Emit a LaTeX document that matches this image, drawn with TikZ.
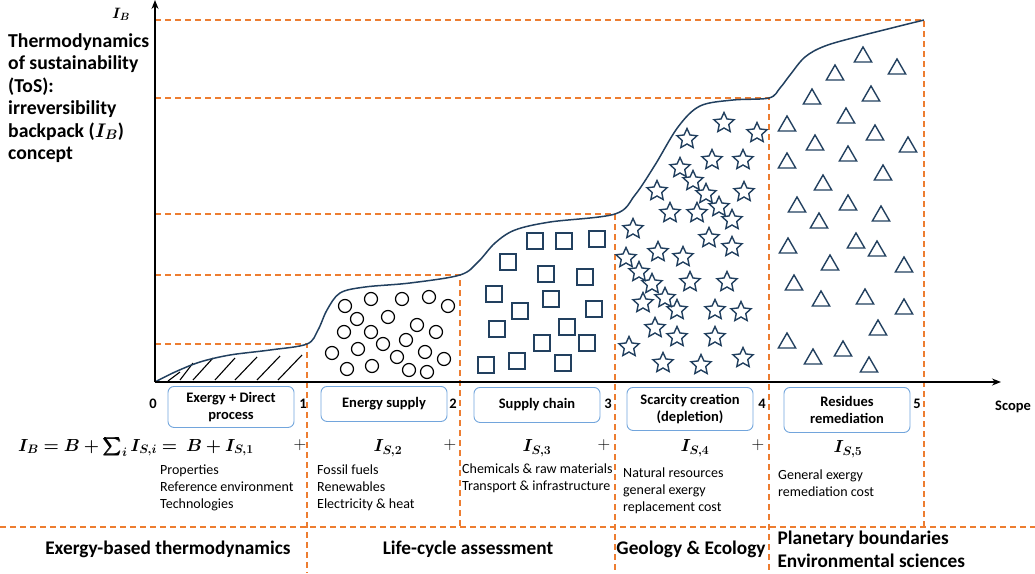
\RequirePackage{fix-cm}
\documentclass[tikz,border=0pt]{standalone}
\usepackage{amsmath}
\usepackage{bm}
\usepackage[no-math]{fontspec}
\setmainfont{Carlito}
\usetikzlibrary{
    arrows.meta,
    shapes.geometric
}

\definecolor{tosorange}{HTML}{ED7D31}
\definecolor{tosnavy}{HTML}{22405F}
\definecolor{tosblue}{HTML}{72A5DC}

\tikzset{
    guide/.style={draw=tosorange, line width=1.3pt, dash pattern=on 6pt off 4pt},
    axis/.style={line width=1.4pt, -{Stealth[length=9pt,width=7pt]}},
    stagebox/.style={draw=tosblue, line width=0.9pt, rounded corners=6pt,
        minimum width=126pt, inner sep=2pt, align=center,
        font=\fontsize{14.5}{17}\selectfont\bfseries},
    tick/.style={font=\fontsize{14.5}{16}\selectfont\bfseries},
    notes/.style={anchor=north west, align=left, inner sep=0pt,
        font=\fontsize{14}{17}\selectfont},
    field/.style={font=\fontsize{19.3}{23}\selectfont\bfseries},
    term/.style={font=\fontsize{17.5}{22}\selectfont},
    ball/.style={circle, draw=black, line width=1.2pt, minimum size=13pt, inner sep=0pt},
    block/.style={rectangle, draw=tosnavy, line width=1.6pt, minimum size=16pt, inner sep=0pt},
    starry/.style={star, star points=5, star point ratio=2.1, draw=tosnavy,
        line width=1.4pt, minimum size=21pt, inner sep=0pt},
    tri/.style={regular polygon, regular polygon sides=3, draw=tosnavy,
        line width=1.4pt, minimum size=20pt, inner sep=0pt}
}

\begin{document}
\begin{tikzpicture}[x=1pt, y=-1pt]

\useasboundingbox (0,0) rectangle (1035,573);

% Key coordinates
\coordinate (O) at (155,382);    % origin
\coordinate (L1) at (307,344);   % end of scope 1
\coordinate (L2) at (460,275);   % end of scope 2
\coordinate (L3) at (615,214);   % end of scope 3
\coordinate (L4) at (769,98);    % end of scope 4
\coordinate (L5) at (924,20);    % end of scope 5
\coordinate (mid) at (0,527);    % split above the field names
\coordinate (bot) at (0,573);

% Dashed guides
\draw[guide] (O |- L1) -- (L1) -- (L1 |- bot);
\draw[guide] (O |- L2) -- (L2) -- (L2 |- mid);
\draw[guide] (O |- L3) -- (L3) -- (L3 |- bot);
\draw[guide] (O |- L4) -- (L4) -- (L4 |- bot);
\draw[guide] (O |- L5) -- (L5) -- (L5 |- mid);
\draw[guide] (mid) -- (1035,527);

% Scope 1: hatching
\foreach \a/\b/\c/\d in {168/381/180/372, 180/380/193/363, 193/380/213/358,
    215/380/235/358, 235/380/257/357, 257/380/280/356, 278/380/302/355}
    \draw[line width=1.1pt] (\a,\b) -- (\c,\d);

% Scope 2: circles
\foreach \p in {(345,306), (371,299), (402,299), (429,297), (448,306), (357,319),
    (388,317), (344,332), (371,332), (417,325), (436,332), (332,353), (358,349),
    (383,344), (406,340), (397,357), (425,352), (444,359), (347,369), (372,366),
    (409,370), (427,372)}
    \node[ball] at \p {};

% Scope 3: squares
\foreach \p in {(535,241), (564,241), (597,239), (508,262), (546,274), (585,277),
    (494,294), (551,299), (520,311), (594,309), (497,329), (567,327), (542,343),
    (587,343), (486,365), (517,361), (563,363)}
    \node[block] at \p {};

% Scope 4: stars
\foreach \p in {(724,123), (757,133), (687,139), (712,160), (743,160), (680,168),
    (693,181), (657,191), (706,194), (744,192), (719,207), (670,213), (697,213),
    (732,220), (633,229), (709,238), (732,247), (658,252), (683,257), (626,258),
    (639,272), (652,284), (690,282), (727,282), (665,298), (643,303), (677,310),
    (715,310), (741,312), (655,328), (677,337), (715,337), (629,347), (663,363),
    (701,365), (743,358)}
    \node[starry] at \p {};

% Scope 5: triangles
\foreach \p in {(863,57), (897,69), (835,75), (812,99), (871,96), (846,118),
    (787,126), (875,135), (815,145), (908,147), (848,156), (787,163), (883,175),
    (823,185), (797,207), (848,205), (881,216), (819,223), (788,248), (856,243),
    (877,251), (830,265), (904,267), (794,285), (821,301), (865,299), (904,309),
    (878,330), (787,343), (813,359), (843,351), (869,367)}
    \node[tri] at \p {};

% Irreversibility curve
\draw[tosnavy, line width=1.5pt] plot[smooth, tension=0.55] coordinates {
    (O) (175,372) (200,362) (230,355) (270,350) (L1) (318,330) (327,310)
    (340,293) (365,287) (410,283) (L2) (478,262) (495,243) (515,230) (550,222)
    (L3) (635,195) (655,165) (678,127) (700,106) (733,100) (L4) (780,88)
    (790,75) (805,57) (825,46) (860,36) (L5)};

% Axes
\draw[axis] (O) -- (155,0);
\draw[axis] (O) -- (1001,382);
\node[font=\fontsize{15}{18}\selectfont] (IB) at (121,14) {$\bm{I_B}$};
\node[tick] (scope) at (1013,407) {Scope};
\node[anchor=north west, align=left, inner sep=0pt,
    font=\fontsize{19.7}{22.5}\selectfont\bfseries] (title) at (8,33)
    {Thermodynamics\\of sustainability\\(ToS):\\irreversibility\\backpack ($\bm{I_B}$)\\concept};

% Scope marks
\node[tick] (s0) at (153,404) {0};
\node[tick] (s1) at (303,404) {1};
\node[tick] (s2) at (453,404) {2};
\node[tick] (s3) at (608,404) {3};
\node[tick] (s4) at (762,404) {4};
\node[tick] (s5) at (917,404) {5};

% Stage boxes
\node[stagebox, anchor=north, minimum height=41pt] (direct) at (231,386) {Exergy + Direct\\process};
\node[stagebox, anchor=north, minimum height=35pt] (energy) at (384,386) {Energy supply};
\node[stagebox, anchor=north, minimum height=35pt] (chain) at (537,387) {Supply chain};
\node[stagebox, anchor=north, minimum height=43pt] (scarcity) at (690,387) {Scarcity creation\\(depletion)};
\node[stagebox, anchor=north, minimum height=45pt] (residues) at (847,387) {Residues\\remediation};

% Sum of contributions
\node[term, anchor=west, inner sep=0pt] (sum) at (18,447) {$\bm{I_B = B + \sum_i I_{S,i} = \ B + I_{S,1}}$};
\node[term] (p1) at (300,445) {$+$};
\node[term] (is2) at (388,448) {$\bm{I_{S,2}}$};
\node[term] (p2) at (450,445) {$+$};
\node[term] (is3) at (537,448) {$\bm{I_{S,3}}$};
\node[term] (p3) at (604,445) {$+$};
\node[term] (is4) at (695,448) {$\bm{I_{S,4}}$};
\node[term] (p4) at (758,445) {$+$};
\node[term] (is5) at (848,449) {$\bm{I_{S,5}}$};

% What each term covers
\node[notes] (n1) at (160,465) {Properties\\Reference environment\\Technologies};
\node[notes] (n2) at (317,465) {Fossil fuels\\Renewables\\Electricity \& heat};
\node[notes] (n3) at (462,464) {Chemicals \& raw materials\\Transport \& infrastructure};
\node[notes] (n4) at (623,468) {Natural resources\\general exergy\\replacement cost};
\node[notes] (n5) at (778,470) {General exergy\\remediation cost};

% Fields
\node[field] (f1) at (168,549) {Exergy-based thermodynamics};
\node[field] (f2) at (468,549) {Life-cycle assessment};
\node[field] (f3) at (691,549) {Geology \& Ecology};
\node[field, anchor=west, align=left] (f4) at (774,549)
    {Planetary boundaries\\Environmental sciences};

\end{tikzpicture}
\end{document}
